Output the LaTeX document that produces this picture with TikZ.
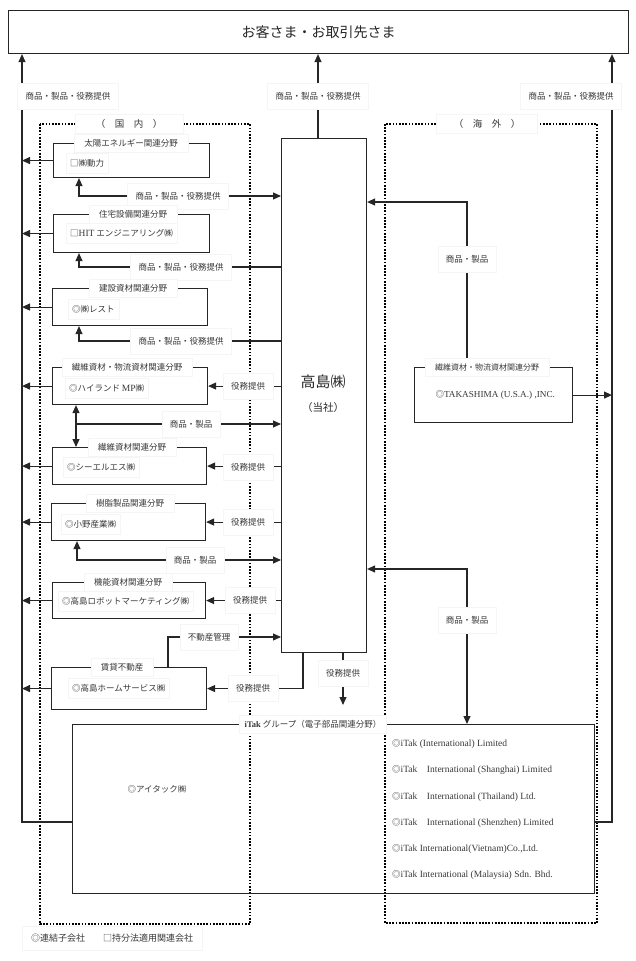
\documentclass[tikz,border=0pt]{standalone}
\usepackage{fontspec}
\setmainfont{Liberation Serif}
\newfontfamily\jp{Noto Sans CJK JP}
\usetikzlibrary{arrows.meta}
\begin{document}
\begin{tikzpicture}[x=1pt,y=-1pt,
  ln/.style={line width=1.1pt, draw=black!85},
  arr/.style={ln, -{Triangle[length=8pt,width=7pt]}},
  arrb/.style={ln, {Triangle[length=8pt,width=7pt]}-{Triangle[length=8pt,width=7pt]}},
  box/.style={draw=black!85, line width=1.1pt, anchor=north west, inner sep=0pt},
  dotbox/.style={line width=1.7pt, dash pattern=on 1.7pt off 1.5pt, draw=black},
  txt/.style={text=black!78, font=\jp\fontsize{8.5pt}{10pt}\selectfont},
  lbl/.style={txt, fill=white, draw=black!4, inner xsep=8pt, inner ysep=9pt},
  ttl/.style={txt, fill=white, draw=black!4, inner xsep=10pt, inner ysep=5pt},
  co/.style={txt, fill=white, draw=black!4, anchor=west, inner xsep=4pt, inner ysep=6pt},
  itk/.style={text=black!78, anchor=west, font=\fontsize{9.5pt}{11pt}\selectfont, inner sep=1pt},
]
\useasboundingbox (0,0) rectangle (636,961);

% dotted regions
\draw[dotbox] (40,124) rectangle (250,924);
\draw[dotbox] (385,124) rectangle (597,923);

% boxes
\node[box, minimum width=620pt, minimum height=43pt] (top) at (8,10) {};
\node[box, minimum width=156pt, minimum height=34pt] (b1) at (53,143) {};
\node[box, minimum width=156pt, minimum height=38pt] (b2) at (53,214) {};
\node[box, minimum width=155pt, minimum height=37pt] (b3) at (52,288) {};
\node[box, minimum width=155pt, minimum height=37pt] (b4) at (52,367) {};
\node[box, minimum width=154pt, minimum height=37pt] (b5) at (52,447) {};
\node[box, minimum width=154pt, minimum height=37pt] (b6) at (51,503) {};
\node[box, minimum width=153pt, minimum height=36pt] (b7) at (52,582) {};
\node[box, minimum width=155pt, minimum height=42pt] (b8) at (51,667) {};
\node[box, minimum width=85pt, minimum height=514pt] (hq) at (281,138) {};
\node[box, minimum width=158pt, minimum height=55pt] (ts) at (414,367) {};
\node[box, minimum width=522pt, minimum height=169pt] (itak) at (72,724) {};

% trunks to customers
\draw[arr] (itak.west |- 0,822) -| (22,0 |- top.south);
\draw[arr] (itak.east |- 0,822) -| (612,0 |- top.south);
\draw[arr] (318,0 |- hq.north) -- (318,0 |- top.south);

% subsidiaries to left trunk
\foreach \b in {b1,b2,b3,b4,b5,b6,b7,b8}
  \draw[arr] (\b.west) -- (22,0 |- \b.west);

% flows between HQ and domestic subsidiaries
\draw[arrb] (hq.west |- 0,196) -| (79,0 |- b1.south);
\draw[arr] (hq.west |- 0,267) -| (79,0 |- b2.south);
\draw[arr] (hq.west |- 0,341) -| (79,0 |- b3.south);
\draw[arrb] (76,0 |- b4.south) -- (76,0 |- b5.north);
\coordinate (r4) at (76,424);
\draw[arr] (r4) -- (hq.west |- r4);
\draw[arr] (hq.west |- b4.east) -- (b4.east);
\draw[arr] (hq.west |- b5.east) -- (b5.east);
\draw[arr] (hq.west |- b6.east) -- (b6.east);
\draw[arrb] (hq.west |- 0,560) -| (77,0 |- b6.south);
\draw[arr] (hq.west |- b7.east) -- (b7.east);
\draw[arr] (168,0 |- b8.north) |- (hq.west |- 0,637);
\draw[arr] (303,0 |- hq.south) |- (b8.east);
\coordinate (svc) at (343,705);
\draw[arr] (343,0 |- hq.south) -- (svc);

% overseas
\draw[arrb] (hq.east |- 0,202) -| (467,0 |- ts.north);
\draw[arr] (ts.east) -- (612,0 |- ts.east);
\draw[arrb] (hq.east |- 0,569) -| (467,0 |- itak.north);

% connector labels
\node[lbl] (lt1) at (68,96) {商品・製品・役務提供};
\node[lbl] (lt2) at (318,96) {商品・製品・役務提供};
\node[lbl] (lt3) at (571,96) {商品・製品・役務提供};
\node[lbl] (lr1) at (178,196) {商品・製品・役務提供};
\node[lbl] (lr2) at (181,267) {商品・製品・役務提供};
\node[lbl] (lr3) at (181,341) {商品・製品・役務提供};
\node[lbl] (lr4) at (191,424) {商品・製品};
\node[lbl] (lr6) at (195,560) {商品・製品};
\node[lbl] (ls4) at (248,386) {役務提供};
\node[lbl] (ls5) at (248,467) {役務提供};
\node[lbl] (ls6) at (248,522) {役務提供};
\node[lbl] (ls7) at (250,600) {役務提供};
\node[lbl] (ls8) at (253,688) {役務提供};
\node[lbl] (lre) at (209,637) {不動産管理};
\node[lbl] (lsi) at (343,673) {役務提供};
\node[lbl] (lo1) at (467,259) {商品・製品};
\node[lbl] (lo2) at (467,620) {商品・製品};

% region titles
\node[ttl, minimum width=108pt, font=\jp\fontsize{9.5pt}{11pt}\selectfont] (dom) at (129,124) {（　国　内　）};
\node[ttl, minimum width=101pt, font=\jp\fontsize{9.5pt}{11pt}\selectfont] (ovs) at (487,124) {（　海　外　）};

% box titles
\node[ttl] (t1) at (131,143) {太陽エネルギー関連分野};
\node[ttl] (t2) at (133,214) {住宅設備関連分野};
\node[ttl] (t3) at (133,288) {建設資材関連分野};
\node[ttl] (t4) at (127,367) {繊維資材・物流資材関連分野};
\node[ttl] (t5) at (132,447) {繊維資材関連分野};
\node[ttl] (t6) at (130,503) {樹脂製品関連分野};
\node[ttl] (t7) at (128,582) {機能資材関連分野};
\node[ttl] (t8) at (122,667) {賃貸不動産};
\node[ttl, font=\jp\fontsize{8pt}{10pt}\selectfont] (tts) at (487,367) {繊維資材・物流資材関連分野};
\node[ttl, inner xsep=5pt] (titak) at (313,724) {{\rmfamily\bfseries iTak} グループ（電子部品関連分野）};

% company names
\node[co] (c1) at (66,163) {□㈱動力};
\node[co] (c2) at (66,233) {□{\rmfamily\fontsize{9.5pt}{10pt}\selectfont HIT} エンジニアリング㈱};
\node[co] (c3) at (68,309) {◎㈱レスト};
\node[co] (c4) at (65,388) {◎ハイランド {\rmfamily\fontsize{9.5pt}{10pt}\selectfont MP}㈱};
\node[co] (c5) at (63,467) {◎シーエルエス㈱};
\node[co] (c6) at (61,524) {◎小野産業㈱};
\node[co] (c7) at (58,601) {◎高島ロボットマーケティング㈱};
\node[co] (c8) at (68,688) {◎高島ホームサービス㈱};
\node[txt, anchor=west] (cts) at (432,395) {◎{\rmfamily\fontsize{9.2pt}{11pt}\selectfont TAKASHIMA (U.S.A.) ,INC.}};
\node[txt] (cai) at (157,789) {◎アイタック㈱};

% iTak group companies
\node[itk] (i1) at (391,744) {{\jp\fontsize{8.5pt}{10pt}\selectfont ◎}iTak (International) Limited};
\node[itk] (i2) at (391,770) {{\jp\fontsize{8.5pt}{10pt}\selectfont ◎}iTak{\jp 　}International (Shanghai) Limited};
\node[itk] (i3) at (391,797) {{\jp\fontsize{8.5pt}{10pt}\selectfont ◎}iTak{\jp 　}International (Thailand) Ltd.};
\node[itk] (i4) at (391,823) {{\jp\fontsize{8.5pt}{10pt}\selectfont ◎}iTak{\jp 　}International (Shenzhen) Limited};
\node[itk] (i5) at (391,849) {{\jp\fontsize{8.5pt}{10pt}\selectfont ◎}iTak International(Vietnam)Co.,Ltd.};
\node[itk] (i6) at (391,875) {{\jp\fontsize{8.5pt}{10pt}\selectfont ◎}iTak International (Malaysia) Sdn. Bhd.};

% main texts
\node[text=black!85, font=\jp\fontsize{14pt}{16pt}\selectfont] (cust) at (top.center) {お客さま・お取引先さま};
\node[text=black!85, font=\jp\fontsize{15pt}{17pt}\selectfont] (hqn) at (323,382) {高島㈱};
\node[text=black!85, font=\jp\fontsize{10.5pt}{12pt}\selectfont] (hqs) at (323,408) {（当社）};

% legend
\node[co, inner xsep=9pt, inner ysep=8pt, font=\jp\fontsize{9pt}{10pt}\selectfont] (leg) at (22,938) {◎連結子会社　　□持分法適用関連会社};
\end{tikzpicture}
\end{document}
